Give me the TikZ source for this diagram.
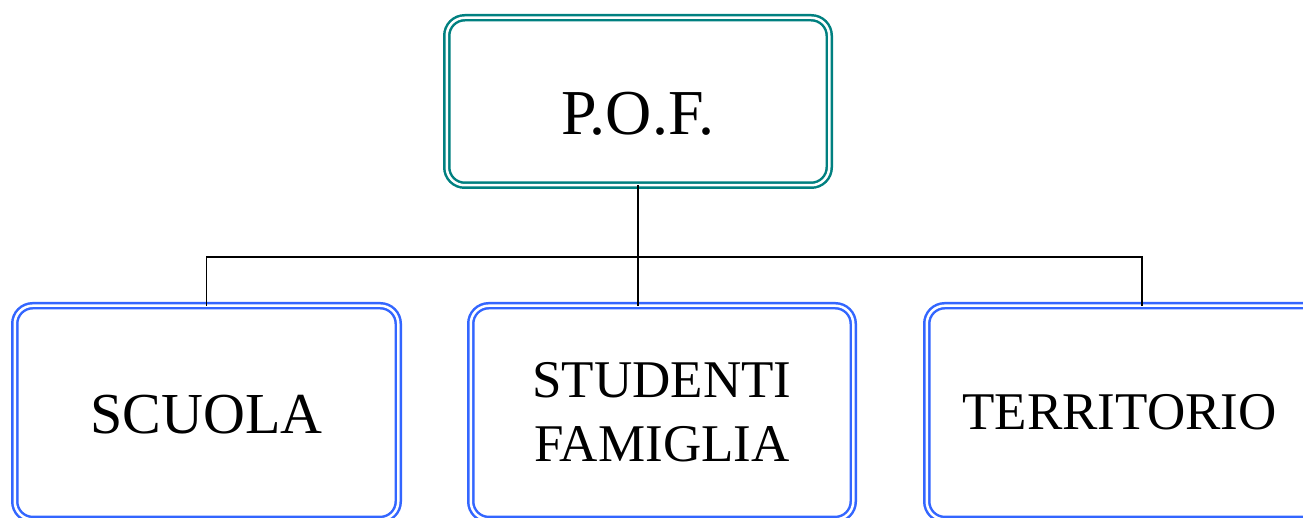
\documentclass[tikz,border=0pt]{standalone}
\usepackage{fontspec}
\setmainfont{Liberation Serif}
\definecolor{tealb}{RGB}{0,128,128}
\definecolor{blueb}{RGB}{51,102,255}
\tikzset{
  box/.style={draw=#1, double=white, double distance=2.5pt, line width=2.5pt,
    rounded corners=18pt, inner sep=0pt, outer sep=0pt, align=center},
  lowbox/.style={box=blueb, minimum height=213.75pt},
  conn/.style={draw=black, line width=1.4pt}
}
\begin{document}
\begin{tikzpicture}[x=1pt,y=-1pt]
\useasboundingbox (0,0) rectangle (1303,518);
\clip (0,0) rectangle (1303,518);
\fill[white] (0,0) rectangle (1303,518);
\node[box=tealb, minimum width=382.5pt, minimum height=167.5pt, font=\fontsize{64}{70}\selectfont, text height=66pt] (pof) at (638,101.5) {P.O.F.};
\node[lowbox, minimum width=383.5pt, font=\fontsize{58}{64}\selectfont, text height=43pt] (scuola) at (206.5,412.6) {SCUOLA};
\node[lowbox, minimum width=382.5pt, font=\fontsize{53}{64}\selectfont] (stud) at (662,412.6) {STUDENTI\\FAMIGLIA};
\node[lowbox, minimum width=434.5pt] (terr) at (1144,412.6) {};
\node[font=\fontsize{53}{64}\selectfont, inner sep=0pt] (terrt) at (1119.5,412) {TERRITORIO};
\coordinate (hub) at (pof.south |- 0,257);
\draw[conn] (pof.south) -- (pof.south |- stud.north);
\draw[conn] (scuola.north) -- (scuola.north |- hub) -- (1142,257 |- hub) coordinate (hr) -- (hr |- terr.north);
\end{tikzpicture}
\end{document}
